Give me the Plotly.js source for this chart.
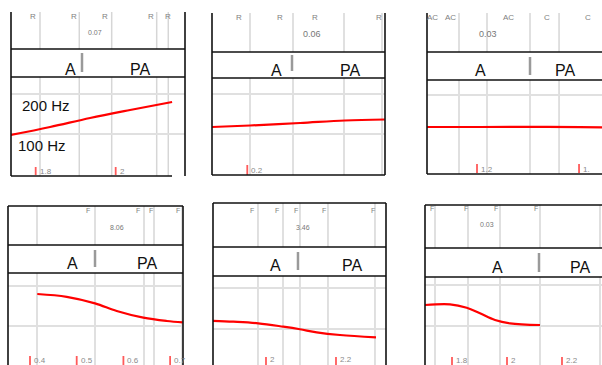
<!DOCTYPE html>
<html><head><meta charset="utf-8">
<script src="https://cdn.plot.ly/plotly-3.0.1.min.js"></script>
<style>html,body{margin:0;padding:0;background:#fff}#chart{width:602px;height:365px}</style>
</head><body><div id="chart"></div>
<script>
// ---- data ----
const p1Time = [1.738, 1.836, 1.936, 2.036, 2.141];
const p1Hz   = [97.5, 117.5, 140, 160, 180];
const p2Time = [0.112, 0.207, 0.332, 0.444, 0.544];
const p2Hz   = [117.5, 121.3, 127.5, 133.8, 136.3];
const p3Time = [1.102, 1.206, 1.304, 1.402, 1.445];
const p3Hz   = [120, 120, 120.5, 119.5, 119];
const p4Time = [0.4156, 0.4786, 0.5392, 0.5857, 0.6427, 0.6927, 0.727];
const p4Hz   = [180, 173, 156.7, 137.5, 120.8, 112.5, 109];
const p5Time = [1.8486, 1.9067, 1.978, 2.0494, 2.0971, 2.1449, 2.2114, 2.3143];
const p5Hz   = [120, 117.8, 113.8, 105.6, 99.3, 91.9, 85.4, 79.8];
const p6Time = [1.7018, 1.7927, 1.8535, 1.9018, 1.9564, 2.0109, 2.12];
const p6Hz   = [151.2, 152.9, 144.6, 130.9, 114.6, 106.6, 102.4];

const p1Bounds = [1.8108, 1.909, 1.99, 2.1025, 2.1315];
const p2Bounds = [0.2068, 0.3143, 0.4418, 0.5368];
const p3Bounds = [1.1647, 1.2196, 1.3039, 1.3608];
const p4Bounds = [0.415, 0.5392, 0.6441, 0.6655, 0.7255];
const p5Bounds = [1.9771, 2.0486, 2.0971, 2.1771, 2.3114];
const p6Bounds = [1.7382, 1.8582, 1.9745, 2.12, 2.3382];

const wordBoundaries = [1.9158, 0.3118, 1.3039, 0.5392, 2.0914, 2.1164];

const p1Ticks = [1.8, 2];            const p1TickText = ["1.8", "2"];
const p2Ticks = [0.2];               const p2TickText = ["0.2"];
const p3Ticks = [1.2, 1.4];          const p3TickText = ["1.2", "1."];
const p4Ticks = [0.4, 0.5, 0.6, 0.7];const p4TickText = ["0.4", "0.5", "0.6", "0.7"];
const p5Ticks = [2, 2.2];            const p5TickText = ["2", "2.2"];
const p6Ticks = [1.8, 2, 2.2];       const p6TickText = ["1.8", "2", "2.2"];

const p1Marks = ["R", "R", "R", "R", "R"];
const p2Marks = ["R", "R", "R", "R"];
const p3Marks = ["AC", "AC", "AC", "C", "C"];
const p4Marks = ["F", "F", "F", "F"];
const p5Marks = ["F", "F", "F", "F", "F"];
const p6Marks = ["F", "F", "F", "F"];
const tierValues = ["0.07", "0.06", "0.03", "8.06", "3.46", "0.03"];
const words = ["A", "PA"];
const hzLabels = ["200 Hz", "100 Hz"];

// ---- layout geometry (pixels) ----
const W = 602, H = 365;
const px = x => x / W, py = y => 1 - y / H;
const panels = [
  {time:p1Time, hz:p1Hz, bounds:p1Bounds, ticks:p1Ticks, tickText:p1TickText, marks:p1Marks,
   L:11, R:185, top:12, t1:49, t2:77, bot:176, xr:[1.7383, 2.1733], yr:[-5, 242.5], grid:[100,200],
   markX:[33,74,105,151,168], markY:16, markSize:8, valX:95, valY:33, valSize:7,
   wordX:[70,140], wordY:69, bar:[53,72], tickY:[167,175], tickLabelY:171,
   rightBorder:true, topLine:false, botLine:[11,172]},
  {time:p2Time, hz:p2Hz, bounds:p2Bounds, ticks:p2Ticks, tickText:p2TickText, marks:p2Marks,
   L:212, R:385, top:13, t1:52, t2:78, bot:175, xr:[0.1118, 0.5443], yr:[-2.5, 240], grid:[100,200],
   markX:[239,280,315,379], markY:17, markSize:8, valX:312, valY:34, valSize:9,
   wordX:[276,350], wordY:70, bar:[55,71], tickY:[165,175], tickLabelY:170,
   rightBorder:true, topLine:false, botLine:[212,385]},
  {time:p3Time, hz:p3Hz, bounds:p3Bounds, ticks:p3Ticks, tickText:p3TickText, marks:p3Marks,
   L:427, R:602, top:13, t1:52, t2:80, bot:174, xr:[1.102, 1.445], yr:[2.5, 237.5], grid:[200],
   markX:[432,450,508,547,588], markY:17, markSize:8, valX:488, valY:34, valSize:9,
   wordX:[480,565], wordY:70, bar:[57,75], tickY:[164,173], tickLabelY:169,
   rightBorder:false, topLine:false, botLine:[427,602]},
  {time:p4Time, hz:p4Hz, bounds:p4Bounds, ticks:p4Ticks, tickText:p4TickText, marks:p4Marks,
   L:8, R:183, top:206, t1:245, t2:273, bot:365, xr:[0.3529, 0.7276], yr:[2.5, 232.5], grid:[100,200],
   markX:[88,138,151,178], markY:210, markSize:7, valX:117, valY:227, valSize:7,
   wordX:[72,147], wordY:263, bar:[250,267], tickY:[356,365], tickLabelY:360,
   rightBorder:true, topLine:true, botLine:null},
  {time:p5Time, hz:p5Hz, bounds:p5Bounds, ticks:p5Ticks, tickText:p5TickText, marks:p5Marks,
   L:213, R:386, top:203, t1:247, t2:276, bot:365, xr:[1.8486, 2.3429], yr:[12.2, 229.3], grid:[100,200],
   markX:[252,277,296,324,373], markY:210, markSize:7, valX:303, valY:227, valSize:7,
   wordX:[275,352], wordY:265, bar:[252,270], tickY:[357,365], tickLabelY:359,
   rightBorder:true, topLine:true, botLine:null},
  {time:p6Time, hz:p6Hz, bounds:p6Bounds, ticks:p6Ticks, tickText:p6TickText, marks:p6Marks,
   L:425, R:602, top:205, t1:248, t2:277, bot:365, xr:[1.7018, 2.3455], yr:[4.9, 219.5], grid:[100,200],
   markX:[432,466,496,536], markY:208, markSize:7, valX:487, valY:224, valSize:7,
   wordX:[497,580], wordY:267, bar:[253,272], tickY:[357,365], tickLabelY:360,
   rightBorder:false, topLine:true, botLine:null}
];

const FONT = "Liberation Sans, Arial, sans-serif";
const traces = [], shapes = [], annotations = [];
const layout = {
  width: W, height: H, margin: {l:0, r:0, t:0, b:0},
  paper_bgcolor: "#fff", plot_bgcolor: "rgba(0,0,0,0)", showlegend: false,
  font: {family: FONT}
};

const black = {color: "#111", width: 1.6};
function pline(x0, y0, x1, y1, line) {
  shapes.push({type:"line", xref:"paper", yref:"paper", x0:px(x0), y0:py(y0), x1:px(x1), y1:py(y1), line, layer:"above"});
}

panels.forEach((p, i) => {
  const n = i + 1;
  const xa = "x" + n, ya = "y" + n;
  layout["xaxis" + n] = {domain:[px(p.L), px(p.R)], range:p.xr, anchor:ya, showgrid:false, zeroline:false,
    showline:false, showticklabels:false, ticks:"", fixedrange:true};
  layout["yaxis" + n] = {domain:[py(p.bot), py(p.t2)], range:p.yr, anchor:xa, showgrid:true, gridcolor:"#e0e0e0",
    gridwidth:1.5, tickvals:p.grid, zeroline:false, showline:false, showticklabels:false, ticks:"", fixedrange:true};

  traces.push({x:p.time, y:p.hz, xaxis:xa, yaxis:ya, type:"scatter", mode:"lines",
    line:{color:"#ff0000", width:2.2, shape:"spline"}, hoverinfo:"skip", cliponaxis:true});

  p.bounds.forEach(b => {
    [[p.top, p.t1], [p.t2, p.bot]].forEach(([a, c]) => {
      shapes.push({type:"line", xref:xa, yref:"paper", x0:b, x1:b, y0:py(a), y1:py(c),
        line:{color:"#d6d6d6", width:1.5}, layer:"below"});
    });
  });
  shapes.push({type:"line", xref:xa, yref:"paper", x0:wordBoundaries[i], x1:wordBoundaries[i],
    y0:py(p.bar[0]), y1:py(p.bar[1]), line:{color:"#9a9a9a", width:2.5}});
  p.ticks.forEach((t, k) => {
    shapes.push({type:"line", xref:xa, yref:"paper", x0:t, x1:t, y0:py(p.tickY[0]), y1:py(p.tickY[1]),
      line:{color:"#ff5a5a", width:1.8}});
    annotations.push({xref:xa, yref:"paper", x:t, y:py(p.tickLabelY), text:p.tickText[k], showarrow:false,
      xanchor:"left", yanchor:"middle", xshift:2, font:{size:8, color:"#8a8a8a", family:FONT}});
  });

  pline(p.L, p.top, p.L, p.bot, black);
  if (p.rightBorder) pline(p.R, p.top, p.R, p.bot, black);
  pline(p.L, p.t1, p.R, p.t1, black);
  pline(p.L, p.t2, p.R, p.t2, black);
  if (p.topLine) pline(p.L, p.top, p.R, p.top, black);
  if (p.botLine) pline(p.botLine[0], p.bot, p.botLine[1], p.bot, black);

  p.marks.forEach((m, k) => {
    annotations.push({xref:"paper", yref:"paper", x:px(p.markX[k]), y:py(p.markY), text:m, showarrow:false,
      xanchor:"center", yanchor:"middle", font:{size:p.markSize, color:"#808080", family:FONT}});
  });
  annotations.push({xref:"paper", yref:"paper", x:px(p.valX), y:py(p.valY), text:tierValues[i], showarrow:false,
    xanchor:"center", yanchor:"middle", font:{size:p.valSize, color:"#777", family:FONT}});
  words.forEach((w, k) => {
    annotations.push({xref:"paper", yref:"paper", x:px(p.wordX[k]), y:py(p.wordY), text:w, showarrow:false,
      xanchor:"center", yanchor:"middle", font:{size:16, color:"#111", family:FONT}});
  });
});

annotations.push({xref:"paper", yref:"paper", x:px(20), y:py(106), text:hzLabels[0], showarrow:false,
  xanchor:"left", yanchor:"middle", font:{size:15, color:"#111", family:FONT}});
annotations.push({xref:"paper", yref:"paper", x:px(16), y:py(145), text:hzLabels[1], showarrow:false,
  xanchor:"left", yanchor:"middle", font:{size:15, color:"#111", family:FONT}});

layout.shapes = shapes;
layout.annotations = annotations;
Plotly.newPlot("chart", traces, layout, {staticPlot:true, displayModeBar:false});
</script></body></html>
